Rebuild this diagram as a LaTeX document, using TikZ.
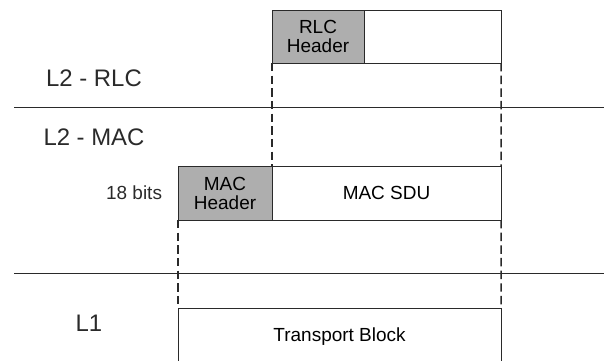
\documentclass[tikz,border=0pt]{standalone}
\usepackage{fontspec}
\setmainfont{Liberation Sans}
\usepackage{tikz}
\usetikzlibrary{positioning}
\definecolor{hdrgray}{HTML}{AEAEAE}
\definecolor{linegray}{HTML}{2A2A2A}

\tikzset{
  pdubox/.style={draw=linegray, line width=0.6pt, inner sep=0pt, outer sep=0pt,
                 anchor=north west, align=center, font=\fontsize{13.5}{15.5}\selectfont},
  hdrbox/.style={pdubox, fill=hdrgray},
  dashline/.style={draw=linegray, line width=1.1pt, dash pattern=on 6pt off 3pt},
  layerline/.style={draw=linegray, line width=0.6pt},
  layerlabel/.style={font=\fontsize{17}{20}\selectfont, text=linegray}
}

\begin{document}
\begin{tikzpicture}[x=0.025cm, y=-0.025cm]
    \useasboundingbox (0,0) rectangle (604,361);
    % RLC PDU
    \node[hdrbox, minimum width=2.3cm, minimum height=1.325cm] (rlchdr) at (272,10) {RLC\\[-2pt]Header};
    \node[pdubox, minimum width=3.425cm, minimum height=1.325cm] (rlcsdu) at (364,10) {};
    % MAC PDU
    \node[hdrbox, minimum width=2.35cm, minimum height=1.35cm] (machdr) at (178,166) {MAC\\[-2pt]Header};
    \node[pdubox, minimum width=5.725cm, minimum height=1.35cm] (macsdu) at (272,166) {MAC SDU};
    \node[font=\fontsize{13.5}{15.5}\selectfont, anchor=east, text=linegray] (bits) at (167,193) {18 bits};
    % Transport block
    \node[pdubox, minimum width=8.075cm, minimum height=1.45cm] (tb) at (178,308) {Transport Block};
    % Mapping down the layers
    \draw[dashline] (rlchdr.south west) -- (macsdu.north west);
    \draw[dashline] (rlcsdu.south east) -- (macsdu.north east);
    \draw[dashline] (machdr.south west) -- (tb.north west);
    \draw[dashline] (macsdu.south east) -- (tb.north east);
    % Layer borders
    \coordinate (rlcmacL) at (14,107);
    \coordinate (rlcmacR) at (604,107);
    \coordinate (macphyL) at (14,273);
    \coordinate (macphyR) at (604,273);
    \draw[layerline] (rlcmacL) -- (rlcmacR);
    \draw[layerline] (macphyL) -- (macphyR);
    % Layer names
    \node[layerlabel] (lrlc) at (94,78) {L2 - RLC};
    \node[layerlabel] (lmac) at (94,137) {L2 - MAC};
    \node[layerlabel] (lphy) at (89,323) {L1};
\end{tikzpicture}
\end{document}
